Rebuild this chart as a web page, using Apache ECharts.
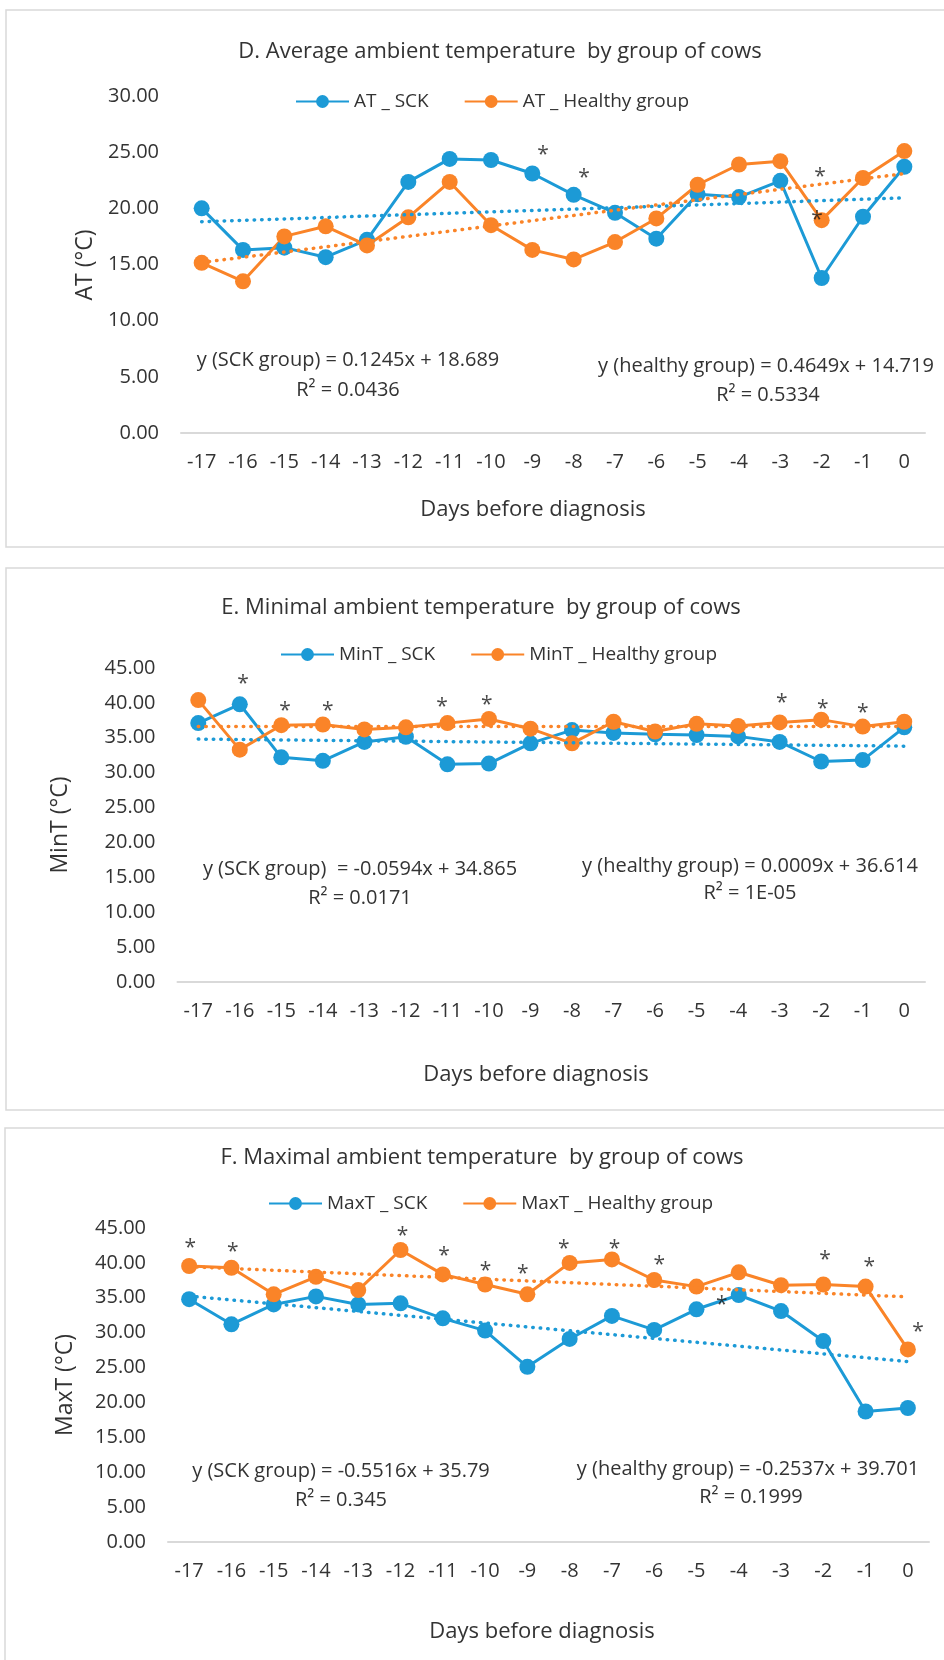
<!DOCTYPE html>
<html>
<head>
<meta charset="utf-8">
<script src="https://cdn.jsdelivr.net/npm/echarts@6/dist/echarts.min.js"></script>
<style>
html,body{margin:0;padding:0;background:#fff;}
#chart{width:944px;height:1660px;}
</style>
</head>
<body>
<div id="chart"></div>
<script>
// ---------- DATA ----------
const days = ['-17','-16','-15','-14','-13','-12','-11','-10','-9','-8','-7','-6','-5','-4','-3','-2','-1','0'];

// D. Average ambient temperature
const atSCK     = [20.0,16.3,16.5,15.65,17.2,22.35,24.4,24.3,23.1,21.2,19.6,17.3,21.25,21.0,22.45,13.8,19.25,23.7];
const atHealthy = [15.15,13.5,17.5,18.4,16.7,19.2,22.35,18.5,16.3,15.45,17.0,19.1,22.1,23.9,24.2,18.95,22.7,25.1];
const atTrendSCK     = [18.81, 20.93];
const atTrendHealthy = [15.18, 23.09];
const atStars = [[-8.74,25.3],[-7.75,23.2],[-2.04,23.3],[-2.11,19.5]];

// E. Minimal ambient temperature
const minSCK     = [37.1,39.8,32.2,31.7,34.4,35.15,31.2,31.3,34.2,36.1,35.7,35.5,35.4,35.2,34.4,31.6,31.8,36.5];
const minHealthy = [40.4,33.3,36.8,36.9,36.2,36.5,37.1,37.7,36.3,34.2,37.3,35.9,37.0,36.7,37.2,37.6,36.6,37.3];
const minTrendSCK     = [34.81, 33.80];
const minTrendHealthy = [36.62, 36.63];
const minStars = [[-15.92,43.6],[-14.91,39.7],[-13.88,39.7],[-11.13,40.3],[-10.05,40.6],[-2.95,40.8],[-1.96,40.0],[-1.0,39.4]];

// F. Maximal ambient temperature
const maxSCK     = [34.8,31.2,34.05,35.2,34.05,34.2,32.05,30.3,25.1,29.1,32.4,30.4,33.35,35.4,33.1,28.8,18.7,19.2];
const maxHealthy = [39.55,39.3,35.5,38.0,36.1,41.85,38.35,36.9,35.5,40.0,40.5,37.55,36.6,38.65,36.8,36.9,36.6,27.6];
const maxTrendSCK     = [35.24, 25.86];
const maxTrendHealthy = [39.45, 35.13];
const maxStars = [[-16.97,43.0],[-15.97,42.4],[-11.95,44.7],[-10.97,41.8],[-9.99,39.7],[-9.11,39.2],[-8.14,42.8],[-6.94,42.8],[-5.88,40.5],[-4.40,34.8],[-1.96,41.2],[-0.91,40.2],[0.24,31.0]];

// texts
const titles = ['D. Average ambient temperature  by group of cows','E. Minimal ambient temperature  by group of cows','F. Maximal ambient temperature  by group of cows'];
const seriesNames = [['AT _ SCK','AT _ Healthy group'],['MinT _ SCK','MinT _ Healthy group'],['MaxT _ SCK','MaxT _ Healthy group']];
const yTitles = ['AT (°C)','MinT (°C)','MaxT (°C)'];
const xTitle = 'Days before diagnosis';
const eqSCK = ['y (SCK group) = 0.1245x + 18.689','y (SCK group)  = -0.0594x + 34.865','y (SCK group) = -0.5516x + 35.79'];
const r2SCK = ['R² = 0.0436','R² = 0.0171','R² = 0.345'];
const eqHealthy = ['y (healthy group) = 0.4649x + 14.719','y (healthy group) = 0.0009x + 36.614','y (healthy group) = -0.2537x + 39.701'];
const r2Healthy = ['R² = 0.5334','R² = 1E-05','R² = 0.1999'];
const yMax = [30, 45, 45];
const yInterval = 5;

// ---------- LAYOUT ----------
const FONT = '"Open Sans", "Noto Sans", sans-serif';
const TXT = '#333333';
const BLUE = '#1c9ad6';
const ORANGE = '#fa8428';

const panels = [
  {grid:{left:181,right:19,top:96,height:337}, frame:{x:6,y:10,h:537}, title:[500,52], legend:[290,87],
   xt:[533,510], yt:[85,265], eqS:[348,360], rS:[348,390], eqH:[766,366], rH:[768,395]},
  {grid:{left:177.5,right:19,top:668,height:314}, frame:{x:6,y:568,h:542}, title:[481,608], legend:[275,640],
   xt:[536,1075], yt:[60,825], eqS:[360,869], rS:[360,898], eqH:[750,866], rH:[750,893]},
  {grid:{left:168,right:15,top:1228,height:314}, frame:{x:5,y:1128,h:560}, title:[482,1158], legend:[263,1189],
   xt:[542,1632], yt:[65,1385], eqS:[341,1471], rS:[341,1500], eqH:[748,1469], rH:[751,1497]}
];

const mainData = [[atSCK, atHealthy],[minSCK, minHealthy],[maxSCK, maxHealthy]];
const trendData = [[atTrendSCK, atTrendHealthy],[minTrendSCK, minTrendHealthy],[maxTrendSCK, maxTrendHealthy]];
const starData = [atStars, minStars, maxStars];

const grid = [], xAxis = [], yAxis = [], series = [], legend = [], graphic = [];

panels.forEach((p, i) => {
  grid.push(Object.assign({containLabel:false}, p.grid));
  xAxis.push({
    type:'category', gridIndex:i, data:days, boundaryGap:true,
    axisLine:{show:true, lineStyle:{color:'#d9d9d9', width:2}},
    axisTick:{show:false},
    axisLabel:{interval:0, color:TXT, fontFamily:FONT, fontSize:20, margin:19},
    splitLine:{show:false}
  });
  yAxis.push({
    type:'value', gridIndex:i, min:0, max:yMax[i], interval:yInterval,
    axisLine:{show:false}, axisTick:{show:false}, splitLine:{show:false},
    axisLabel:{color:TXT, fontFamily:FONT, fontSize:20, margin:22, formatter:v => v.toFixed(2)}
  });
});
// hidden value axes for the significance stars
panels.forEach((p, i) => {
  xAxis.push({type:'value', gridIndex:i, min:-17.5, max:0.5, show:false});
});

panels.forEach((p, i) => {
  const cols = [BLUE, ORANGE];
  [0,1].forEach(k => {
    series.push({
      type:'line', name:'trend'+i+k, xAxisIndex:i, yAxisIndex:i, silent:true,
      data:[[days[0], trendData[i][k][0]],[days[days.length-1], trendData[i][k][1]]],
      symbol:'none', z:3,
      lineStyle:{color:cols[k], width:3.5, type:[0.5,7], cap:'round'}
    });
  });
  [0,1].forEach(k => {
    series.push({
      type:'line', name:seriesNames[i][k], xAxisIndex:i, yAxisIndex:i,
      data:mainData[i][k], symbol:'circle', symbolSize:16, showSymbol:true, z:2,
      lineStyle:{color:cols[k], width:3}, itemStyle:{color:cols[k]}
    });
  });
  series.push({
    type:'scatter', name:'stars'+i, xAxisIndex:3+i, yAxisIndex:i, silent:true,
    data:starData[i], symbol:'circle', symbolSize:1, itemStyle:{color:'rgba(0,0,0,0)'}, z:5,
    label:{show:true, position:'inside', formatter:'*', color:'#1a1a1a', fontFamily:FONT, fontSize:21, offset:[0,6]}
  });
  legend.push({
    data:seriesNames[i], left:p.legend[0], top:p.legend[1], orient:'horizontal',
    itemWidth:53, itemHeight:16, itemGap:35, selectedMode:false,
    textStyle:{color:TXT, fontFamily:FONT, fontSize:19}
  });
  graphic.push({type:'rect', silent:true, z:-10,
    shape:{x:p.frame.x, y:p.frame.y, width:960, height:p.frame.h},
    style:{fill:'none', stroke:'#d9d9d9', lineWidth:1.5}});
  const txt = (pos, text, size, extra) => Object.assign({
    type:'text', silent:true, x:pos[0], y:pos[1],
    style:{text:text, fill:TXT, font:size+'px '+FONT, textAlign:'center', textVerticalAlign:'middle'}
  }, extra || {});
  graphic.push(txt(p.title, titles[i], 22));
  graphic.push(txt(p.xt, xTitle, 22));
  graphic.push(txt(p.yt, yTitles[i], 23, {rotation:Math.PI/2}));
  graphic.push(txt(p.eqS, eqSCK[i], 20));
  graphic.push(txt(p.rS, r2SCK[i], 20));
  graphic.push(txt(p.eqH, eqHealthy[i], 20));
  graphic.push(txt(p.rH, r2Healthy[i], 20));
});

const chart = echarts.init(document.getElementById('chart'), null, {renderer:'canvas', width:944, height:1660});
chart.setOption({
  animation:false,
  backgroundColor:'#ffffff',
  grid, xAxis, yAxis, series, legend, graphic
});
</script>
</body>
</html>
